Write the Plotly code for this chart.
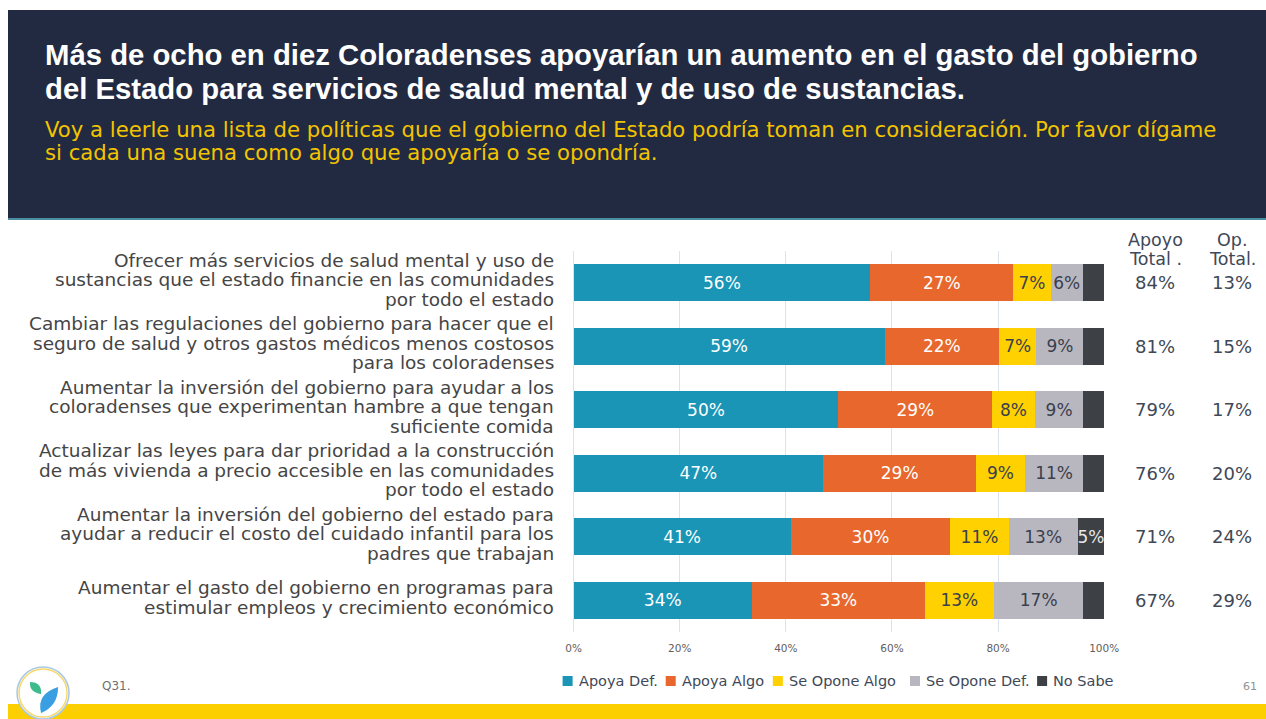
import plotly.graph_objects as go

# ---------------- data ----------------
categories = [
    "Ofrecer más servicios de salud mental y uso de<br>sustancias que el estado financie en las comunidades<br>por todo el estado",
    "Cambiar las regulaciones del gobierno para hacer que el<br>seguro de salud y otros gastos médicos menos costosos<br>para los coloradenses",
    "Aumentar la inversión del gobierno para ayudar a los<br>coloradenses que experimentan hambre a que tengan<br>suficiente comida",
    "Actualizar las leyes para dar prioridad a la construcción<br>de más vivienda a precio accesible en las comunidades<br>por todo el estado",
    "Aumentar la inversión del gobierno del estado para<br>ayudar a reducir el costo del cuidado infantil para los<br>padres que trabajan",
    "Aumentar el gasto del gobierno en programas para<br>estimular empleos y crecimiento económico",
]
apoya_def = [55.9, 58.6, 49.9, 47.0, 40.9, 33.6]
apoya_algo = [27.0, 21.6, 29.0, 28.9, 30.1, 32.6]
opone_algo = [7.0, 7.0, 8.0, 9.1, 11.0, 13.0]
opone_def = [6.1, 8.9, 9.2, 11.1, 13.0, 16.9]
no_sabe = [3.9, 3.9, 3.9, 3.9, 5.0, 3.9]
apoyo_total = ["84%", "81%", "79%", "76%", "71%", "67%"]
op_total = ["13%", "15%", "17%", "20%", "24%", "29%"]
series_names = ["Apoya Def.", "Apoya Algo", "Se Opone Algo", "Se Opone Def.", "No Sabe"]
x_ticks = [0, 20, 40, 60, 80, 100]

title_lines = [
    "Más de ocho en diez Coloradenses apoyarían un aumento en el gasto del gobierno",
    "del Estado para servicios de salud mental y de uso de sustancias.",
]
subtitle_lines = [
    "Voy a leerle una lista de políticas que el gobierno del Estado podría toman en consideración. Por favor dígame",
    "si cada una suena como algo que apoyaría o se opondría.",
]

# ---------------- styles ----------------
W, H = 1282, 719
X_OFF, X_SCALE = 8.0, 0.981   # observed page offset / scale of the rendered figure
def px(x):
    return min(max((x - X_OFF) / X_SCALE / W, 0.0), 1.0)
def py(y):
    return 1 - y / H

colors = ["#1a95b6", "#e8672c", "#ffd100", "#b8b7c0", "#3d4044"]
text_colors = ["#ffffff", "#ffffff", "#3a3f4d", "#3a3f4d", "#e8e8e8"]
FONT = "DejaVu Sans"
LABEL_COLOR = "#454545"
NUM_COLOR = "#404858"

fig = go.Figure()
series = [apoya_def, apoya_algo, opone_algo, opone_def, no_sabe]
for name, vals, col, tcol in zip(series_names, series, colors, text_colors):
    texts = [f"{round(v)}%" if v >= 4.5 else "" for v in vals]
    fig.add_trace(go.Bar(
        y=categories, x=vals, name=name, orientation="h",
        marker=dict(color=col, line=dict(width=0)),
        text=texts, textposition="inside", insidetextanchor="middle",
        constraintext="none",
        textangle=0, textfont=dict(family=FONT, size=17, color=tcol),
        hoverinfo="skip", showlegend=False,
    ))

annotations = []
# category labels, line by line
LS = 19.5
for cat in categories:
    lines = cat.split("<br>")
    n = len(lines)
    for i, ln in enumerate(lines):
        off = ((n - 1) / 2 - i) * LS + 3
        annotations.append(dict(
            x=px(555), xref="paper", y=cat, yref="y", yshift=off,
            text=ln, showarrow=False, xanchor="right", yanchor="middle",
            font=dict(family=FONT, size=18.5, color=LABEL_COLOR),
        ))
# totals
for cat, a, o in zip(categories, apoyo_total, op_total):
    annotations.append(dict(x=px(1154), xref="paper", y=cat, yref="y", text=a,
                            showarrow=False, xanchor="center", yanchor="middle",
                            font=dict(family=FONT, size=18, color=NUM_COLOR)))
    annotations.append(dict(x=px(1231), xref="paper", y=cat, yref="y", text=o,
                            showarrow=False, xanchor="center", yanchor="middle",
                            font=dict(family=FONT, size=18, color=NUM_COLOR)))
for txt, xc, yc in [("Apoyo", 1154, 240), ("Total .", 1154, 259), ("Op.", 1231, 240), ("Total.", 1231, 259)]:
    annotations.append(dict(x=px(xc), xref="paper", y=py(yc), yref="paper", text=txt,
                            showarrow=False, xanchor="center", yanchor="middle",
                            font=dict(family=FONT, size=17.5, color=NUM_COLOR)))
# title & subtitle
for ln, yc in zip(title_lines, [55, 89]):
    annotations.append(dict(x=px(43), xref="paper", y=py(yc), yref="paper", text=f"<b>{ln}</b>",
                            showarrow=False, xanchor="left", yanchor="middle",
                            font=dict(family="Liberation Sans", size=29.3, color="#ffffff")))
for ln, yc in zip(subtitle_lines, [130, 153]):
    annotations.append(dict(x=px(43), xref="paper", y=py(yc), yref="paper", text=ln,
                            showarrow=False, xanchor="left", yanchor="middle",
                            font=dict(family=FONT, size=21.2, color="#f2c400")))
# custom legend (text part)
legend_sq_x = [562, 665, 772, 909, 1036]
legend_tx_x = [576, 679, 786, 923, 1050]
for name, tx in zip(series_names, legend_tx_x):
    annotations.append(dict(x=px(tx), xref="paper", y=py(681), yref="paper", text=name,
                            showarrow=False, xanchor="left", yanchor="middle",
                            font=dict(family=FONT, size=14.5, color=NUM_COLOR)))
# footer texts
annotations.append(dict(x=px(100), xref="paper", y=py(686), yref="paper", text="Q31.",
                        showarrow=False, xanchor="left", yanchor="middle",
                        font=dict(family=FONT, size=12, color="#707070")))
annotations.append(dict(x=px(1258), xref="paper", y=py(686), yref="paper", text="61",
                        showarrow=False, xanchor="right", yanchor="middle",
                        font=dict(family=FONT, size=11, color="#909090")))

def leaf(p0, c1, p1, c2):
    return (f"M {px(p0[0]):.5f},{py(p0[1]):.5f} Q {px(c1[0]):.5f},{py(c1[1]):.5f} {px(p1[0]):.5f},{py(p1[1]):.5f} "
            f"Q {px(c2[0]):.5f},{py(c2[1]):.5f} {px(p0[0]):.5f},{py(p0[1]):.5f} Z")

shapes = [
    # header
    dict(type="rect", xref="paper", yref="paper", x0=px(8), x1=1, y0=py(218), y1=py(10),
         fillcolor="#222a42", line=dict(width=0), layer="below"),
    dict(type="rect", xref="paper", yref="paper", x0=px(8), x1=1, y0=py(220), y1=py(218),
         fillcolor="#4a8ea3", line=dict(width=0), layer="below"),
    # footer bar
    dict(type="rect", xref="paper", yref="paper", x0=px(8), x1=1, y0=0, y1=py(704),
         fillcolor="#fcd000", line=dict(width=0), layer="above"),
    # logo
    dict(type="circle", xref="paper", yref="paper", x0=px(17), x1=px(69), y0=py(719), y1=py(667),
         fillcolor="#ffffff", line=dict(color="#a9c8e6", width=1.5), layer="above"),
    dict(type="circle", xref="paper", yref="paper", x0=px(19), x1=px(67), y0=py(717), y1=py(669),
         fillcolor="#ffffff", line=dict(color="#f6d96a", width=1.5), layer="above"),
    dict(type="path", xref="paper", yref="paper",
         path=leaf((30, 682), (42, 682), (41, 694), (29, 692)),
         fillcolor="#3dbb8c", line=dict(width=0), layer="above"),
    dict(type="path", xref="paper", yref="paper",
         path=leaf((58, 687), (58, 706), (41, 713), (36, 694)),
         fillcolor="#3a9ee2", line=dict(width=0), layer="above"),
]
# legend squares
for col, sx in zip(colors, legend_sq_x):
    shapes.append(dict(type="rect", xref="paper", yref="paper", x0=px(sx), x1=px(sx + 10),
                       y0=py(686), y1=py(676), fillcolor=col, line=dict(width=0), layer="above"))

fig.update_layout(
    width=W, height=H, autosize=False,
    margin=dict(l=0, r=0, t=0, b=0),
    paper_bgcolor="#ffffff", plot_bgcolor="#ffffff",
    barmode="stack", bargap=0.417,
    showlegend=False,
    xaxis=dict(domain=[px(573), px(1103)], range=[0, 100], tickmode="array", tickvals=x_ticks,
               ticktext=[f"{v}%" for v in x_ticks],
               showgrid=True, gridcolor="#dce2ee", gridwidth=1,
               zeroline=True, zerolinecolor="#dce2ee", zerolinewidth=1,
               showline=False, ticks="", ticklabelstandoff=8,
               tickfont=dict(family=FONT, size=10.5, color="#606060"), fixedrange=True),
    yaxis=dict(domain=[py(632), py(251)], autorange="reversed", showticklabels=False,
               showgrid=False, zeroline=False, showline=False, ticks="", type="category",
               fixedrange=True),
    annotations=annotations,
    shapes=shapes,
)

fig.write_html("out.html",
               config={"responsive": False, "displayModeBar": False},
               post_script="document.body.style.margin='0';document.body.style.overflow='hidden';")
